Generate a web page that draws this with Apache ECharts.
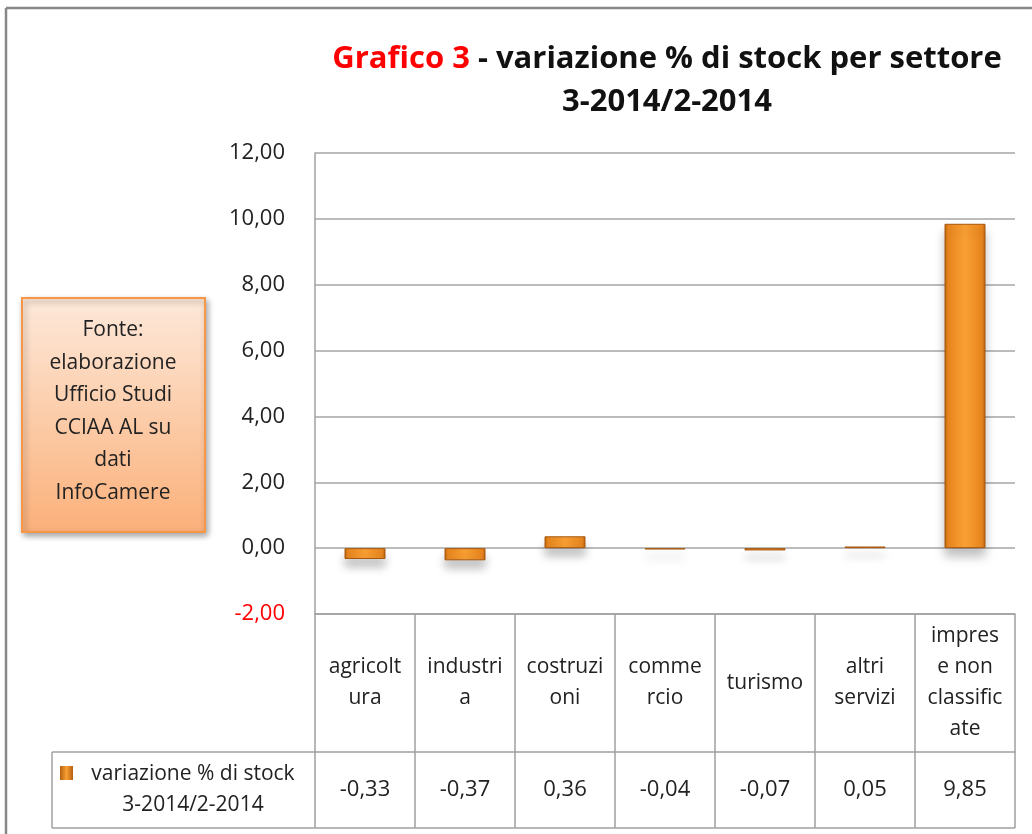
<!DOCTYPE html>
<html>
<head>
<meta charset="utf-8">
<script src="https://cdn.jsdelivr.net/npm/echarts@6/dist/echarts.min.js"></script>
<style>
  html, body { margin: 0; padding: 0; background: #fff; }
  #chart { width: 1032px; height: 834px; }
</style>
</head>
<body>
<div id="chart"></div>
<script>
// dati
var categorie = ['agricoltura', 'industria', 'costruzioni', 'commercio', 'turismo', 'altri servizi', 'imprese non classificate'];
var etichette = ['agricolt\nura', 'industri\na', 'costruzi\noni', 'comme\nrcio', 'turismo', 'altri\nservizi', 'impres\ne non\nclassific\nate'];
var valori = [-0.33, -0.37, 0.36, -0.04, -0.07, 0.05, 9.85];
var nomeSerie = 'variazione % di stock\n3-2014/2-2014';
var font = "'Open Sans', sans-serif";

function virgola(v) {
  return v.toFixed(2).replace('.', ',');
}

var chart = echarts.init(document.getElementById('chart'));

var barColor = new echarts.graphic.LinearGradient(0, 0, 1, 0, [
  { offset: 0, color: '#b4600f' },
  { offset: 0.08, color: '#e9861f' },
  { offset: 0.5, color: '#f9a033' },
  { offset: 0.92, color: '#e9861f' },
  { offset: 1, color: '#b4600f' }
]);

var option = {
  animation: false,
  textStyle: { fontFamily: font },
  title: {
    text: '{r|Grafico 3} - variazione % di stock per settore\n3-2014/2-2014',
    left: 662,
    top: 33,
    textAlign: 'center',
    textStyle: {
      fontFamily: font,
      fontSize: 31,
      fontWeight: 'bold',
      color: '#111',
      lineHeight: 43,
      rich: {
        r: { color: '#ff0000', fontSize: 31, fontWeight: 'bold', fontFamily: font }
      }
    }
  },
  grid: { left: 315, right: 17, top: 153, bottom: 220, containLabel: false },
  xAxis: [{
    type: 'category',
    data: categorie,
    position: 'bottom',
    axisLine: { onZero: false, lineStyle: { color: '#a0a0a0', width: 1.5 } },
    axisTick: { show: true, length: 138, lineStyle: { color: '#a0a0a0', width: 1.5 } },
    axisLabel: {
      interval: 0,
      margin: 69,
      verticalAlign: 'middle',
      fontSize: 21,
      lineHeight: 31,
      color: '#222',
      formatter: function (v, i) { return etichette[i]; }
    }
  }, {
    type: 'category',
    data: categorie,
    position: 'bottom',
    offset: 138,
    axisLine: { onZero: false, lineStyle: { color: '#a0a0a0', width: 1.5 } },
    axisTick: { show: true, length: 76, lineStyle: { color: '#a0a0a0', width: 1.5 } },
    axisLabel: {
      interval: 0,
      margin: 38,
      verticalAlign: 'middle',
      fontSize: 22,
      color: '#222',
      formatter: function (v, i) { return virgola(valori[i]); }
    }
  }],
  yAxis: {
    type: 'value',
    min: -2,
    max: 12,
    interval: 2,
    axisLine: { show: true, lineStyle: { color: '#a0a0a0', width: 1.5 } },
    axisTick: { show: false },
    splitLine: { lineStyle: { color: '#a6a6a6', width: 1.5 } },
    axisLabel: {
      margin: 30,
      fontSize: 22,
      color: '#222',
      formatter: function (v) { return v < 0 ? '{neg|' + virgola(v) + '}' : virgola(v); },
      rich: { neg: { color: '#ff0000', fontSize: 22, fontFamily: font } }
    }
  },
  series: [{
    name: nomeSerie,
    type: 'bar',
    data: valori,
    barWidth: '41%',
    itemStyle: {
      color: barColor,
      borderColor: '#a8580e',
      borderWidth: 1,
      shadowBlur: 10,
      shadowColor: 'rgba(0,0,0,0.25)',
      shadowOffsetY: 8
    }
  }],
  graphic: [
    // cornice del grafico
    { type: 'line', shape: { x1: 6, y1: 8, x2: 1032, y2: 8 }, style: { stroke: '#888', lineWidth: 2.5 } },
    { type: 'line', shape: { x1: 6, y1: 8, x2: 6, y2: 834 }, style: { stroke: '#888', lineWidth: 2.5 } },
    // tabella dati
    { type: 'line', shape: { x1: 52, y1: 752, x2: 315, y2: 752 }, style: { stroke: '#a0a0a0', lineWidth: 1.5 } },
    { type: 'line', shape: { x1: 52, y1: 752, x2: 52, y2: 828 }, style: { stroke: '#a0a0a0', lineWidth: 1.5 } },
    { type: 'line', shape: { x1: 52, y1: 828, x2: 1015, y2: 828 }, style: { stroke: '#a0a0a0', lineWidth: 1.5 } },
    { type: 'rect', shape: { x: 60, y: 766, width: 13, height: 14 },
      style: { fill: new echarts.graphic.LinearGradient(0, 0, 1, 0, [
        { offset: 0, color: '#b4600f' }, { offset: 0.5, color: '#f9a033' }, { offset: 1, color: '#b4600f' }]) } },
    { type: 'text', x: 193, y: 759,
      style: { text: nomeSerie, font: '21px ' + font, fill: '#222', lineHeight: 31, align: 'center' } },
    // riquadro fonte
    { type: 'rect', shape: { x: 22, y: 298, width: 183, height: 234 },
      style: {
        fill: new echarts.graphic.LinearGradient(0, 0, 0, 1, [
          { offset: 0, color: '#fde9da' }, { offset: 1, color: '#fbb07a' }]),
        stroke: '#f79646', lineWidth: 2,
        shadowBlur: 6, shadowColor: 'rgba(0,0,0,0.35)', shadowOffsetX: 2, shadowOffsetY: 3
      } },
    { type: 'text', x: 113, y: 314,
      style: {
        text: 'Fonte:\nelaborazione\nUfficio Studi\nCCIAA AL su\ndati\nInfoCamere',
        font: '21px ' + font, fill: '#222', lineHeight: 32.5, align: 'center'
      } }
  ]
};

chart.setOption(option);
</script>
</body>
</html>
